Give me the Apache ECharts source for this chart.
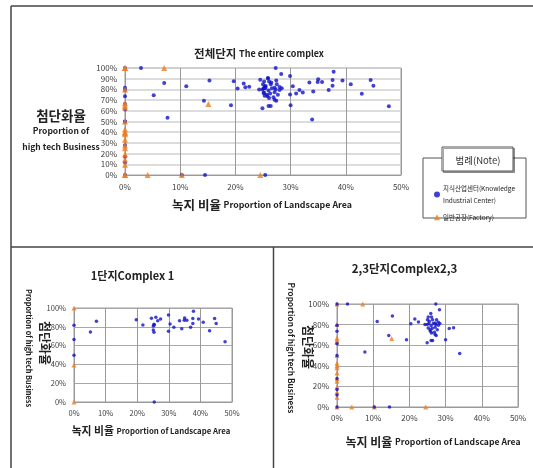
<!DOCTYPE html>
<html><head><meta charset="utf-8">
<script src="https://cdn.jsdelivr.net/npm/echarts@6/dist/echarts.min.js"></script>
<style>html,body{margin:0;padding:0;background:#fff}#c{width:533px;height:468px}</style>
</head><body><div id="c"></div>
<script>
// ---- data (x: proportion of landscape area %, y: proportion of high tech business %) ----
const KN = '지식산업센터(Knowledge Industrial Center)';
const FA = '일반공장(Factory)';
const xTicks = [0, 10, 20, 30, 40, 50];
const yTicksTop = [0, 10, 20, 30, 40, 50, 60, 70, 80, 90, 100];
const yTicksSub = [0, 20, 40, 60, 80, 100];

const complex1Knowledge = [
  [0,81.6],[0,66.4],[0,49.7],[5.2,74.5],[7.1,85.9],[19.7,87.6],[21.8,81.9],[24.5,89],[25.9,90.1],
  [25.3,82.6],[25.1,80.8],[25.4,82],[25.1,76.6],[25.3,74.1],[26.5,86.5],[27.4,88.3],[25.4,0],
  [29.9,92.6],[29.9,75.2],[30.4,83],[31.6,79.5],[33.4,86.5],[34.1,78],[35,89.4],[34.9,86.9],
  [35.7,86.9],[36.9,79.5],[37.6,83.4],[37.6,88.7],[37.8,96.5],[39.4,88.3],[40.9,84.8],[42.9,75.9],
  [44.5,88.7],[45,83.4],[47.8,64.2]
];
const complex1Factory = [[0,100],[0,39.4],[0,0]];

const complex23Knowledge = [
  [0,100],[2.9,100],[0,79.4],[0,73.6],[0,61.3],[0,50],[0,27.7],[0,17],[0,11.6],[0,0],
  [7.7,53.5],[10.3,0],[11.1,82.9],[14.5,0],[14.3,69.3],[15.3,88.4],[19.2,65.2],[20.4,80.9],
  [21.5,85.4],[22.5,82.5],[30,65.2],[31,76.1],[32.2,77],[33.9,51.9],
  [25.9,90.7],[25.2,87.4],[26.1,87.4],[25.0,84.8],[25.5,83.2],[26.4,84.8],[27.1,81.6],[27.5,84.8],
  [28.0,82.3],[24.3,80],[24.9,80],[25.4,81],[26.0,79],[26.6,81],[27.3,80],[28.0,79.4],[28.4,81],
  [25.2,76.8],[25.7,75.1],[26.3,76.1],[27.1,77.4],[25.8,73.5],[26.1,71.9],[27.7,75.1],[26.9,72.6],
  [27.1,70.3],[27.4,69.3],[26.0,64.5],[26.4,64.5],[24.9,62.3],[27.3,100],[28.3,94.3]
];
const complex23Factory = [
  [0,100],[7.1,100],[15.1,66.4],[4.1,0],[10.3,0],[24.5,0],
  [0,80],[0,67],[0,65],[0,63],[0,50],[0,42.5],[0,40],[0,38],[0,33],[0,27.5],[0,25],[0,19.5],[0,14.5],[0,9.5],[0,0]
];
const allKnowledge = complex1Knowledge.concat(complex23Knowledge);
const allFactory = complex1Factory.concat(complex23Factory);

// ---- chart ----
const FONT = '"Noto Sans CJK KR", "Noto Sans", sans-serif';
const BLUE = '#1212c8', ORANGE = '#ef7d22';
const chart = echarts.init(document.getElementById('c'), null, {renderer: 'canvas'});

function xAx(gi, lab) {
  return {gridIndex: gi, type: 'value', min: xTicks[0], max: xTicks[xTicks.length-1],
    interval: xTicks[1]-xTicks[0],
    axisLine: {show: true, lineStyle: {color: '#9a9a9a'}}, axisTick: {show: false},
    axisLabel: {formatter: v => v + '%', fontSize: lab.fs, color: '#404040', margin: lab.m, fontFamily: FONT},
    splitLine: {show: true, lineStyle: {color: '#9a9a9a', width: 1}}};
}
function yAx(gi, ticks, lab, splitColor, splitWidth) {
  return {gridIndex: gi, type: 'value', min: ticks[0], max: ticks[ticks.length-1],
    interval: ticks[1]-ticks[0],
    axisLine: {show: true, lineStyle: {color: '#9a9a9a'}}, axisTick: {show: false},
    axisLabel: {formatter: v => v + '%', fontSize: lab.fs, color: '#404040', margin: lab.m, fontFamily: FONT},
    splitLine: {show: true, lineStyle: {color: splitColor, width: splitWidth}}};
}
function txt(x, y, text, font, opts) {
  opts = opts || {};
  return {type: 'text', x: x, y: y, rotation: opts.rot || 0, z: 10,
    style: Object.assign({text: text, font: font, fill: opts.fill || '#222', align: 'center', verticalAlign: 'middle'},
      opts.rich ? {rich: opts.rich} : {})};
}
function line(x1, y1, x2, y2) {
  return {type: 'line', shape: {x1, y1, x2, y2}, style: {stroke: '#444', lineWidth: 1.5}, z: 1};
}

const richTitle = (k, e) => ({
  k: {font: 'bold ' + k + 'px ' + FONT, fill: '#222'},
  e: {font: 'bold ' + e + 'px ' + FONT, fill: '#222'}
});

const option = {
  animation: false,
  backgroundColor: '#fff',
  grid: [
    {left: 125, top: 68, width: 276, height: 107, show: true, borderColor: '#9a9a9a', borderWidth: 1},
    {left: 74, top: 308, width: 158, height: 94, show: true, borderColor: '#9a9a9a', borderWidth: 1},
    {left: 337, top: 304, width: 181, height: 103, show: true, borderColor: '#9a9a9a', borderWidth: 1}
  ],
  xAxis: [xAx(0, {fs: 8, m: 8}), xAx(1, {fs: 7.5, m: 7}), xAx(2, {fs: 8, m: 7})],
  yAxis: [yAx(0, yTicksTop, {fs: 8, m: 8}, '#d0d0d0', 1.5), yAx(1, yTicksSub, {fs: 7.5, m: 8}, '#a8a8a8', 1),
          yAx(2, yTicksSub, {fs: 8, m: 8}, '#a8a8a8', 1)],
  legend: {
    data: [{name: KN, icon: 'circle'}, {name: FA, icon: 'triangle'}],
    orient: 'vertical', left: 434, top: 182, itemWidth: 6, itemHeight: 6, itemGap: 4, padding: 0,
    selectedMode: false,
    formatter: n => n === KN ? '지식산업센터(Knowledge\nIndustrial Center)' : n,
    textStyle: {fontSize: 6.5, lineHeight: 12.5, color: '#222', fontFamily: FONT, padding: [0, 0, 0, -2]}
  },
  series: [
    {type: 'scatter', name: KN, xAxisIndex: 0, yAxisIndex: 0, data: allKnowledge, symbol: 'circle', symbolSize: 4, itemStyle: {color: BLUE}, z: 2},
    {type: 'scatter', name: FA, xAxisIndex: 0, yAxisIndex: 0, data: allFactory, symbol: 'triangle', symbolSize: 6, itemStyle: {color: ORANGE}, z: 3},
    {type: 'scatter', name: FA, xAxisIndex: 1, yAxisIndex: 1, data: complex1Factory, symbol: 'triangle', symbolSize: 5, itemStyle: {color: ORANGE}, z: 2},
    {type: 'scatter', name: KN, xAxisIndex: 1, yAxisIndex: 1, data: complex1Knowledge, symbol: 'circle', symbolSize: 3.5, itemStyle: {color: BLUE}, z: 3},
    {type: 'scatter', name: FA, xAxisIndex: 2, yAxisIndex: 2, data: complex23Factory, symbol: 'triangle', symbolSize: 5, itemStyle: {color: ORANGE}, z: 2},
    {type: 'scatter', name: KN, xAxisIndex: 2, yAxisIndex: 2, data: complex23Knowledge, symbol: 'circle', symbolSize: 3.5, itemStyle: {color: BLUE}, z: 3}
  ],
  graphic: [
    // panel frames
    line(11, 6, 533, 6), line(11, 6, 11, 468), line(11, 247, 533, 247), line(273.5, 247, 273.5, 468),
    // legend boxes
    {type: 'rect', shape: {x: 423, y: 158, width: 103, height: 60}, style: {fill: '#fff', stroke: '#555', lineWidth: 1}, z: 0},
    {type: 'rect', shape: {x: 442, y: 147, width: 71, height: 24}, style: {fill: '#fff', stroke: '#555', lineWidth: 1, shadowColor: 'rgba(0,0,0,0.35)', shadowOffsetX: 1.5, shadowOffsetY: 1.5}, z: 1},
    txt(478, 160, '범례(Note)', '9.5px ' + FONT, {fill: '#333'}),
    // top chart texts
    txt(259, 54, '{k|전체단지} {e|The entire complex}', '12px ' + FONT, {rich: richTitle(11.5, 9)}),
    txt(61, 116, '첨단화율', 'bold 13.5px ' + FONT),
    txt(61, 131, 'Proportion of', 'bold 8.5px ' + FONT),
    txt(61, 147, 'high tech Business', 'bold 8.5px ' + FONT),
    txt(262, 205, '{k|녹지 비율} {e|Proportion of Landscape Area}', '12px ' + FONT, {rich: richTitle(12.5, 8.8)}),
    // bottom-left texts
    txt(132.5, 276, '1단지Complex 1', 'bold 11px ' + FONT),
    txt(29, 348, 'Proportion of high tech Business', 'bold 7.4px ' + FONT, {rot: -Math.PI / 2}),
    txt(45, 343, '첨단화율', 'bold 12px ' + FONT, {rot: -Math.PI / 2}),
    txt(151, 431, '{k|녹지 비율} {e|Proportion of Landscape Area}', '12px ' + FONT, {rich: richTitle(10.8, 7.8)}),
    // bottom-right texts
    txt(404.5, 269, '2,3단지Complex2,3', 'bold 11.5px ' + FONT),
    txt(291, 348, 'Proportion of high tech Business', 'bold 8.2px ' + FONT, {rot: -Math.PI / 2}),
    txt(308, 347, '첨단화율', 'bold 12px ' + FONT, {rot: -Math.PI / 2}),
    txt(433, 442, '{k|녹지 비율} {e|Proportion of Landscape Area}', '12px ' + FONT, {rich: richTitle(12, 8.6)})
  ]
};
chart.setOption(option);
</script>
</body></html>
